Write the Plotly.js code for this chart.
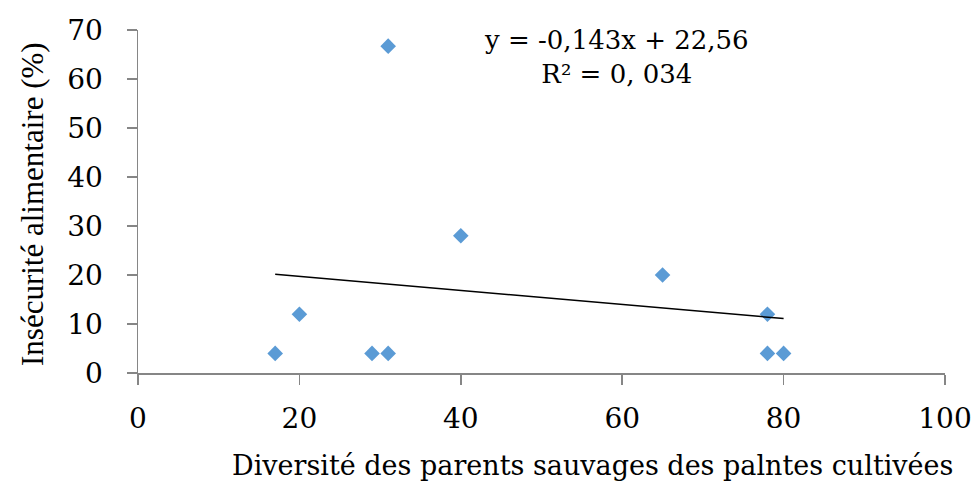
<!DOCTYPE html>
<html>
<head>
<meta charset="utf-8">
<script src="https://cdn.plot.ly/plotly-3.0.1.min.js"></script>
<style>html,body{margin:0;padding:0;background:#fff;}#chart{width:976px;height:485px;}</style>
</head>
<body>
<div id="chart"></div>
<script>
// Data
const diversite = [17, 20, 29, 31, 31, 40, 65, 78, 78, 80];
const insecurite = [4, 12, 4, 4, 66.7, 28, 20, 12, 4, 4];
const slope = -0.143;
const intercept = 22.56;
const trendX = [17, 80];
const equationText = "y = -0,143x + 22,56<br>R² = 0, 034";
const xTitle = "Diversité des parents sauvages des palntes cultivées";
const yTitle = "Insécurité alimentaire (%)";

const trendY = trendX.map(x => slope * x + intercept);

const serif = "DejaVu Serif, serif";
const axisGray = "#868686";

const data = [
  {
    x: diversite, y: insecurite, type: "scatter", mode: "markers",
    marker: {symbol: "diamond", size: 12, color: "#5B9BD5"},
    showlegend: false, hoverinfo: "x+y"
  },
  {
    x: trendX, y: trendY, type: "scatter", mode: "lines",
    line: {color: "#000000", width: 1.5},
    showlegend: false, hoverinfo: "skip"
  }
];

const layout = {
  width: 976, height: 485,
  paper_bgcolor: "#ffffff", plot_bgcolor: "#ffffff",
  margin: {l: 138, r: 31, t: 30, b: 112},
  xaxis: {
    range: [0, 100], tickvals: [0, 20, 40, 60, 80, 100],
    showgrid: false, zeroline: false, showline: true,
    linecolor: axisGray, linewidth: 1.5,
    ticks: "outside", ticklen: 10, tickcolor: axisGray, tickwidth: 1.5,
    tickfont: {family: serif, size: 28, color: "#000"},
    ticklabelstandoff: 10
  },
  yaxis: {
    range: [0, 70], tickvals: [0, 10, 20, 30, 40, 50, 60, 70],
    showgrid: false, zeroline: false, showline: true,
    linecolor: axisGray, linewidth: 1.5,
    ticks: "outside", ticklen: 10, tickcolor: axisGray, tickwidth: 1.5,
    tickfont: {family: serif, size: 28, color: "#000"},
    ticklabelstandoff: 18
  },
  annotations: [
    {
      text: equationText, xref: "paper", yref: "paper",
      x: (616 - 138) / 807, y: (485 - 112 - 57) / 343,
      xanchor: "center", yanchor: "middle", showarrow: false, align: "center",
      font: {family: serif, size: 26, color: "#000"}
    },
    {
      text: xTitle, xref: "paper", yref: "paper",
      x: (592 - 138) / 807, y: -(465 - 373) / 343,
      xanchor: "center", yanchor: "middle", showarrow: false,
      font: {family: serif, size: 27, color: "#000"}
    },
    {
      text: yTitle, xref: "paper", yref: "paper",
      x: (32 - 138) / 807, y: (373 - 204) / 343,
      xanchor: "center", yanchor: "middle", showarrow: false, textangle: -90,
      font: {family: "Liberation Serif, serif", size: 31, color: "#000"}
    }
  ]
};

Plotly.newPlot("chart", data, layout, {displayModeBar: false, staticPlot: true});
</script>
</body>
</html>
